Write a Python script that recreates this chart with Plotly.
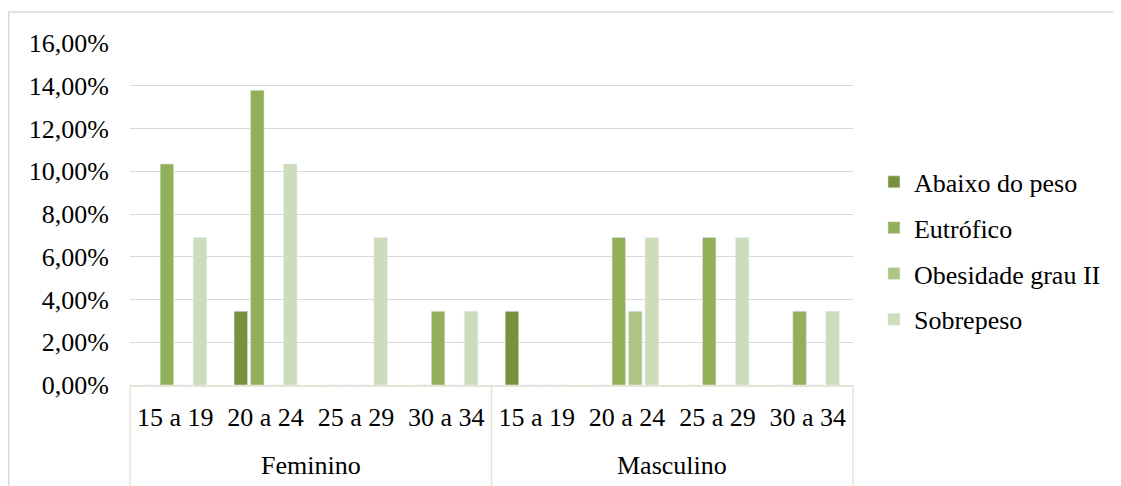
import plotly.graph_objects as go

groups = ["Feminino", "Masculino"]
ages = ["15 a 19", "20 a 24", "25 a 29", "30 a 34"]
series_names = ["Abaixo do peso", "Eutrófico", "Obesidade grau II", "Sobrepeso"]
colors = ["#78913F", "#92B05A", "#ADC686", "#CDDCBA"]

# values as fractions; order: Feminino ages then Masculino ages
abaixo = [0, 0.0345, 0, 0, 0.0345, 0, 0, 0]
eutrofico = [0.1034, 0.1379, 0, 0.0345, 0, 0.0690, 0.0690, 0.0345]
obesidade = [0, 0, 0, 0, 0, 0.0345, 0, 0]
sobrepeso = [0.0690, 0.1034, 0.0690, 0.0345, 0, 0.0690, 0.0690, 0.0345]
values = [abaixo, eutrofico, obesidade, sobrepeso]

x = list(range(len(groups) * len(ages)))
ticktext = ages * len(groups)

FONT = "Liberation Serif, Times New Roman, serif"
FS = 26
fig = go.Figure()
for i, (name, vals) in enumerate(zip(series_names, values)):
    fig.add_trace(go.Bar(
        x=x, y=vals, name=name, marker_color=colors[i],
        legendgroup=name,
    ))

# page has an 8px body margin; figure coordinates are page - 8
FW, FH = 1113, 478
L, T = 122, 35
PR, PB = 845, 377
R, B = FW - PR, FH - PB
W, H = PR - L, PB - T

fig.update_layout(
    width=FW, height=FH,
    margin=dict(l=L, r=R, t=T, b=B),
    barmode="group", bargap=0.27, bargroupgap=0.18,
    plot_bgcolor="white", paper_bgcolor="white",
    separators=",.",
    font=dict(family=FONT, size=FS, color="#000000"),
    legend=dict(x=1.029, y=0.392, xanchor="left", yanchor="middle",
                font=dict(family=FONT, size=FS), tracegroupgap=9,
                itemwidth=30),
    showlegend=True,
)
fig.update_yaxes(range=[0, 0.16], dtick=0.02, tickformat=".2%",
                 showgrid=True, gridcolor="#D9D9D9", gridwidth=1,
                 zeroline=False, showline=False, ticklabelstandoff=20,
                 tickfont=dict(family=FONT, size=FS))
fig.update_xaxes(range=[-0.5, 7.5], tickvals=x, ticktext=ticktext,
                 showgrid=False, zeroline=False, showline=True,
                 linecolor="#E6E3D8", linewidth=1.5, ticks="",
                 ticklabelstandoff=8,
                 tickfont=dict(family=FONT, size=FS))

# group labels and dividers
n = len(ages)
for gi, g in enumerate(groups):
    cx = (gi * n + (n - 1) / 2 + 0.5) / (len(x))
    fig.add_annotation(x=cx, y=-80 / H, xref="paper", yref="paper",
                       text=g, showarrow=False, xanchor="center", yanchor="middle",
                       font=dict(family=FONT, size=FS))
for k in range(len(groups) + 1):
    fx = k / len(groups)
    fig.add_shape(type="line", xref="paper", yref="paper",
                  x0=fx, x1=fx, y0=0, y1=-(FH - PB + 5) / H,
                  line=dict(color="#E6E3D8", width=1.5))

# outer chart border
fig.add_shape(type="rect", xref="paper", yref="paper",
              x0=(0.75 - L) / W, x1=(FW + 10 - L) / W,
              y0=-(FH - PB + 10) / H, y1=1 + (T - 4) / H,
              line=dict(color="#D9D9D9", width=1.5), layer="below")

fig.write_html("out.html")
